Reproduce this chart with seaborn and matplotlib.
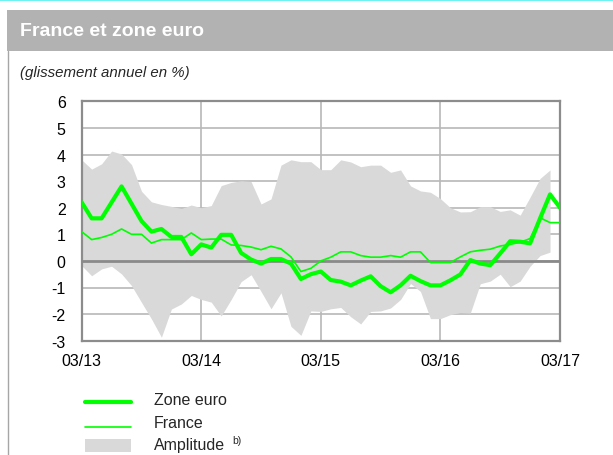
import numpy as np
import pandas as pd
import matplotlib
matplotlib.use("Agg")
import matplotlib.pyplot as plt
from matplotlib.lines import Line2D
from matplotlib.patches import Rectangle
import seaborn as sns

# ---- data (monthly, 03/2013 .. 03/2017) ----
months = list(range(49))
zone_euro = [2.2, 1.6, 1.6, 2.2, 2.8, 2.15, 1.5, 1.1, 1.2, 0.9, 0.9, 0.25,
             0.62, 0.5, 0.98, 0.98, 0.3, 0.05, -0.1, 0.07, 0.07, -0.1, -0.68, -0.5,
             -0.4, -0.72, -0.78, -0.92, -0.74, -0.58, -0.95, -1.18, -0.92, -0.56, -0.76, -0.92,
             -0.92, -0.73, -0.51, 0.03, -0.1, -0.16, 0.28, 0.74, 0.72, 0.66, 1.6, 2.5, 2.0]
france = [1.1, 0.8, 0.88, 1.0, 1.2, 1.0, 1.0, 0.67, 0.8, 0.8, 0.8, 1.05,
          0.8, 0.82, 0.82, 0.6, 0.58, 0.52, 0.42, 0.55, 0.45, 0.15, -0.4, -0.28,
          0.0, 0.14, 0.34, 0.34, 0.2, 0.14, 0.14, 0.2, 0.14, 0.34, 0.34, -0.06,
          -0.06, -0.06, 0.15, 0.34, 0.4, 0.44, 0.56, 0.62, 0.7, 0.84, 1.62, 1.44, 1.44]
amp_high = [3.8, 3.45, 3.65, 4.13, 4.02, 3.62, 2.62, 2.22, 2.12, 2.05, 1.97, 2.1,
            2.0, 2.08, 2.83, 2.95, 3.01, 2.98, 2.14, 2.33, 3.6, 3.8, 3.73, 3.73,
            3.43, 3.43, 3.8, 3.72, 3.54, 3.6, 3.6, 3.33, 3.42, 2.82, 2.63, 2.58,
            2.34, 2.0, 1.84, 1.85, 2.04, 2.04, 1.86, 1.92, 1.72, 2.4, 3.1, 3.42]
amp_low = [-0.18, -0.56, -0.3, -0.2, -0.49, -0.93, -1.56, -2.18, -2.87, -1.81, -1.62, -1.3,
           -1.45, -1.55, -2.07, -1.45, -0.78, -0.52, -1.15, -1.8, -1.2, -2.46, -2.8, -1.88,
           -1.9, -1.8, -1.75, -2.1, -2.37, -1.9, -1.88, -1.77, -1.45, -0.85, -1.15, -2.17,
           -2.17, -2.02, -1.94, -1.96, -0.86, -0.76, -0.5, -0.97, -0.76, -0.2, 0.2, 0.33]
x_ticks = [0, 12, 24, 36, 48]
x_labels = ["03/13", "03/14", "03/15", "03/16", "03/17"]
y_ticks = [-3, -2, -1, 0, 1, 2, 3, 4, 5, 6]

sns.set_style("white")
plt.rcParams["font.family"] = ["Liberation Sans", "DejaVu Sans"]

W, H = 613, 456
fig = plt.figure(figsize=(W / 100, H / 100), dpi=100)

def fx(px):
    return px / W

def fy(py):
    return 1 - py / H

# decorations: cyan top rule, title bar, left border
fig.add_artist(Rectangle((0, fy(2)), 1, 2 / H, transform=fig.transFigure,
                         color="#6FF2F2", lw=0))
fig.add_artist(Rectangle((fx(7), fy(52)), 1, 41 / H, transform=fig.transFigure,
                         color="#B2B2B2", lw=0))
fig.add_artist(Line2D([fx(7.5), fx(7.5)], [0, fy(52)], transform=fig.transFigure,
                      color="#A6A6A6", lw=1.0))
fig.text(fx(20), fy(32), "France et zone euro", color="white", fontweight="bold",
         fontsize=14, va="center", ha="left")
fig.text(fx(20), fy(73), "(glissement annuel en %)", style="italic",
         fontsize=10.8, va="center", ha="left")

ax = fig.add_axes([fx(81.7), fy(341.7), (560 - 81.7) / W, (341.7 - 102.3) / H])

df = pd.DataFrame({"mois": months, "Zone euro": zone_euro, "France": france})
band = pd.DataFrame({"mois": months[:len(amp_high)], "haut": amp_high, "bas": amp_low})

ax.fill_between(band["mois"], band["bas"], band["haut"], color="#D9D9D9", lw=0, zorder=2)
ax.axhline(0, color="#8A8A8A", lw=2.0, zorder=3)
sns.lineplot(data=df, x="mois", y="France", color="#00FF00", lw=1.2, ax=ax, zorder=4)
sns.lineplot(data=df, x="mois", y="Zone euro", color="#00FF00", lw=3.0, ax=ax, zorder=5)

ax.set_xlim(0, 48)
ax.set_ylim(-3, 6)
ax.set_xticks(x_ticks)
ax.set_xticklabels(x_labels)
ax.set_yticks(y_ticks)
ax.set_yticklabels([str(v) for v in y_ticks])
ax.set_xlabel("")
ax.set_ylabel("")
ax.grid(True, color="#B8B8B8", lw=1.2, zorder=0)
ax.set_axisbelow(True)
for s in ax.spines.values():
    s.set_color("#8C8C8C")
    s.set_linewidth(1.6)
ax.tick_params(axis="both", length=0, labelsize=11.5, colors="black")
ax.tick_params(axis="y", pad=11.5)
ax.tick_params(axis="x", pad=8.5)

# legend (manual, figure coordinates)
fig.add_artist(Line2D([fx(85), fx(131)], [fy(403)] * 2, transform=fig.transFigure,
                      color="#00FF00", lw=3.0))
fig.add_artist(Line2D([fx(85), fx(131)], [fy(428)] * 2, transform=fig.transFigure,
                      color="#00FF00", lw=1.2))
fig.add_artist(Rectangle((fx(85), fy(453)), 46 / W, 13 / H, transform=fig.transFigure,
                         color="#D9D9D9", lw=0))
fig.text(fx(154), fy(401), "Zone euro", fontsize=11.5, va="center")
fig.text(fx(154), fy(423), "France", fontsize=11.5, va="center")
fig.text(fx(154), fy(446), "Amplitude", fontsize=11.5, va="center")
fig.text(fx(232), fy(441), "b)", fontsize=7.5, va="center")

fig.savefig("out.png", dpi=100)
